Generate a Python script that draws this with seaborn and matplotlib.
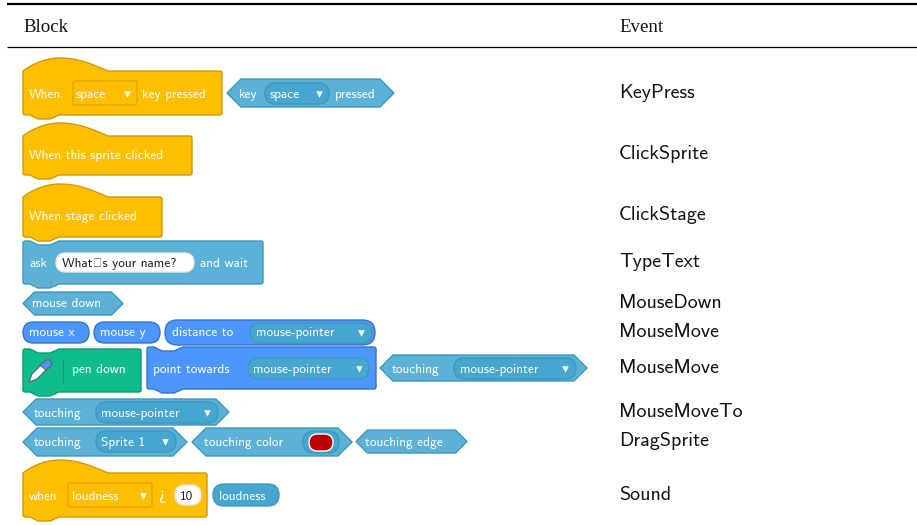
import matplotlib
matplotlib.use('Agg')
import matplotlib.pyplot as plt
import seaborn as sns
import pandas as pd
from matplotlib.path import Path
from matplotlib.patches import PathPatch, FancyBboxPatch, Polygon

# -------------------------
# Table content
# -------------------------
header_labels = ['Block', 'Event']
event_labels = ['KeyPress', 'ClickSprite', 'ClickStage', 'TypeText', 'MouseDown',
                'MouseMove', 'MouseMove', 'MouseMoveTo', 'DragSprite', 'Sound']
event_rows = [92, 153, 214, 261, 302, 331, 367, 411, 440, 494]

ORANGE, ORANGE_E, ORANGE_D = '#FFBF00', '#CF9A05', '#E0A800'
SENSE, SENSE_E, SENSE_D = '#5CB1D6', '#3E97BF', '#47A6D0'
MOTION, MOTION_E = '#4C97FF', '#3373CC'
GREEN, GREEN_E = '#0FBD8C', '#0B9A72'
DARK = '#1c1c1c'
SANS = 'cmss10'
BLOCK_FS = 9.6

sns.set_theme(style='white')
plt.rcParams['font.family'] = ['DejaVu Sans']
plt.rcParams['axes.unicode_minus'] = False

fig, ax = plt.subplots(figsize=(9.17, 5.25), dpi=100)
fig.subplots_adjust(0, 0, 1, 1)
ax.set_xlim(0, 917)
ax.set_ylim(525, 0)
ax.axis('off')


def txt(x, y, s, color='white', size=BLOCK_FS):
    # y is the vertical centre of the block row, text sits on a baseline below it
    ax.text(x, y + 4.2, s, color=color, fontsize=size, family=SANS, ha='left', va='baseline', zorder=6)


def block_path(x0, x1, top, bot, hat=False, top_notch=False, r=2):
    v = [(x0, bot - r)]
    c = [Path.MOVETO]
    if hat:
        v += [(x0, top), (x0 + 12, top - 9), (x0 + 25, top - 13), (x0 + 37, top - 13),
              (x0 + 55, top - 13), (x0 + 69, top - 7), (x0 + 85, top)]
        c += [Path.LINETO] + [Path.CURVE4] * 6
    else:
        v += [(x0, top + r), (x0, top), (x0 + r, top)]
        c += [Path.LINETO, Path.CURVE3, Path.CURVE3]
        if top_notch:
            v += [(x0 + 7, top), (x0 + 15, top + 4), (x0 + 27, top + 4), (x0 + 36, top)]
            c += [Path.LINETO] * 4
    v += [(x1 - r, top), (x1, top), (x1, top + r), (x1, bot - r), (x1, bot), (x1 - r, bot),
          (x0 + 36, bot), (x0 + 27, bot + 4), (x0 + 15, bot + 4), (x0 + 7, bot),
          (x0 + r, bot), (x0, bot), (x0, bot - r)]
    c += [Path.LINETO, Path.CURVE3, Path.CURVE3, Path.LINETO, Path.CURVE3, Path.CURVE3,
          Path.LINETO, Path.LINETO, Path.LINETO, Path.LINETO, Path.LINETO, Path.CURVE3, Path.CURVE3]
    return Path(v, c)


def block(x0, x1, top, bot, fc, ec, **kw):
    ax.add_patch(PathPatch(block_path(x0, x1, top, bot, **kw), fc=fc, ec=ec, lw=1, zorder=2))


def hexa(x0, x1, top, bot, fc=SENSE, ec=SENSE_E):
    h = (bot - top) / 2
    pts = [(x0, top + h), (x0 + h, top), (x1 - h, top), (x1, top + h), (x1 - h, bot), (x0 + h, bot)]
    ax.add_patch(Polygon(pts, closed=True, fc=fc, ec=ec, lw=1, zorder=2, joinstyle='round'))


def pill(x0, x1, top, bot, fc, ec, z=3, lw=1):
    h = bot - top
    ax.add_patch(FancyBboxPatch((x0 + h / 2, top + h / 2), x1 - x0 - h, 0,
                                boxstyle='round,pad=%f,rounding_size=%f' % (h / 2, h / 2),
                                fc=fc, ec=ec, lw=lw, zorder=z))


def rect(x0, x1, top, bot, fc, ec):
    ax.add_patch(FancyBboxPatch((x0 + 2, top + 2), x1 - x0 - 4, bot - top - 4,
                                boxstyle='round,pad=2,rounding_size=2', fc=fc, ec=ec, lw=1, zorder=3))


# -------------------------
# Table rules and text
# -------------------------
ax.plot([7, 917], [3.5, 3.5], color='black', lw=1.6, solid_capstyle='butt')
ax.plot([7, 917], [46.5, 46.5], color='black', lw=0.9, solid_capstyle='butt')
for lab, xp in zip(header_labels, [23, 619]):
    ax.text(xp, 32, lab, family='Liberation Serif', fontsize=13.6, color='#111111', va='baseline')
for lab, yp in zip(event_labels, event_rows):
    ax.text(619, yp + 6, lab, family=SANS, fontsize=14.4, color='#111111', va='baseline')

# -------------------------
# Blocks
# -------------------------
# key press row
block(23, 222, 71, 115, ORANGE, ORANGE_E, hat=True)
txt(29, 94, 'When')
rect(73, 137, 81, 105, ORANGE, ORANGE_D)
txt(76, 94, 'space')
txt(142, 94, 'key pressed')
hexa(227, 394, 79, 107)
txt(239, 94, 'key')
pill(265, 329, 83, 104, SENSE_D, SENSE_E)
txt(270, 94, 'space')
txt(335, 94, 'pressed')

# click rows
block(23, 192, 136, 175, ORANGE, ORANGE_E, hat=True)
txt(29, 155, 'When this sprite clicked')
block(23, 162, 197, 237, ORANGE, ORANGE_E, hat=True)
txt(29, 216, 'When stage clicked')

# ask
block(23, 263, 241, 284, SENSE, SENSE_E, top_notch=True)
txt(29, 263, 'ask')
pill(56, 194, 253, 272, 'white', '#e8e8e8')
txt(62, 263, 'What\u2019s your name?', color=DARK)
txt(200, 263, 'and wait')

# mouse down
hexa(23, 123, 292, 315)
txt(32, 303, 'mouse down')

# mouse reporters
pill(23, 89, 322, 343, MOTION, MOTION_E, z=2)
txt(29, 332, 'mouse x')
pill(94, 160, 322, 343, MOTION, MOTION_E, z=2)
txt(100, 332, 'mouse y')
pill(165, 375, 320, 345, MOTION, MOTION_E, z=2)
txt(172, 332, 'distance to')
pill(250, 372, 323, 343, SENSE_D, SENSE_E)
txt(256, 332, 'mouse-pointer')

# pen down row
block(23, 141, 349, 392, GREEN, GREEN_E, top_notch=True)
ax.plot([62.5, 62.5], [359, 382], color=GREEN_E, lw=0.8, zorder=3)
ax.add_patch(Polygon([(29, 382), (32, 374), (42, 364), (47, 369), (37, 379)], closed=True,
                     fc='white', ec='#575E75', lw=0.8, zorder=4))
ax.add_patch(Polygon([(40, 365), (46, 360), (50, 360), (52, 363), (50, 367), (46, 370)], closed=True,
                     fc='#4C97FF', ec='#575E75', lw=0.8, zorder=4))
txt(72, 369, 'pen down')
block(147, 376, 347, 389, MOTION, MOTION_E, top_notch=True)
txt(153, 369, 'point towards')
pill(248, 369, 358, 379, SENSE_D, SENSE_E)
txt(253, 369, 'mouse-pointer')
hexa(380, 587, 355, 381)
txt(392, 369, 'touching')
pill(454, 576, 358, 379, SENSE_D, SENSE_E)
txt(460, 369, 'mouse-pointer')

# touching rows
hexa(23, 229, 399, 425)
txt(34, 413, 'touching')
pill(96, 218, 402, 423, SENSE_D, SENSE_E)
txt(101, 413, 'mouse-pointer')
hexa(23, 187, 428, 456)
txt(34, 442, 'touching')
pill(96, 176, 431, 452, SENSE_D, SENSE_E)
txt(101, 442, 'Sprite 1')
hexa(192, 352, 428, 456)
txt(204, 442, 'touching color')
pill(303, 339, 431, 453, SENSE_D, SENSE_E)
pill(309, 333, 434, 451, '#BB0000', 'white', z=4)
hexa(356, 467, 430, 453)
txt(365, 442, 'touching edge')

# sound row
block(23, 207, 473, 517, ORANGE, ORANGE_E, hat=True)
txt(29, 496, 'when')
rect(68, 152, 483, 507, ORANGE, ORANGE_D)
txt(72, 496, 'loudness')
txt(158, 496, '>', size=12)
pill(175, 201, 485, 505, 'white', '#e8e8e8')
txt(180, 496, '10', color=DARK)
pill(213, 279, 484, 506, SENSE_D, SENSE_E, z=2)
txt(219, 496, 'loudness')

# dropdown arrows
arrow_x = [127, 319, 361, 359, 565, 207, 165, 143]
arrow_y = [93.5, 93.5, 332.5, 368.5, 368.5, 412.5, 441.5, 495.5]
arrows = pd.DataFrame({'x': arrow_x, 'y': arrow_y})
sns.scatterplot(data=arrows, x='x', y='y', marker='v', s=22, color='white', linewidth=0, zorder=7, ax=ax, legend=False)
ax.set_xlim(0, 917)
ax.set_ylim(525, 0)

fig.savefig('out.png', dpi=100)
